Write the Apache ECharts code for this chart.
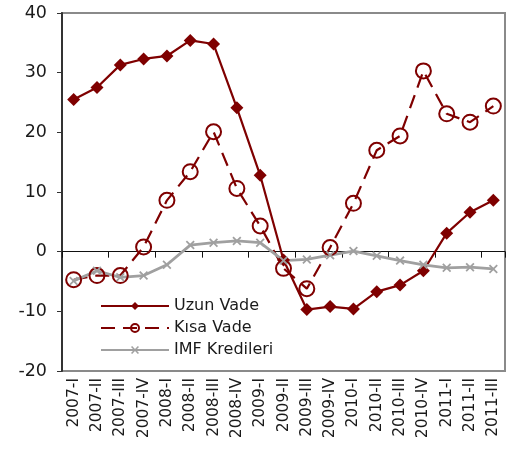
<!DOCTYPE html>
<html><head><meta charset="utf-8">
<script src="https://cdn.jsdelivr.net/npm/echarts@6/dist/echarts.min.js"></script>
<style>html,body{margin:0;padding:0;background:#fff}#c{width:512px;height:455px}</style>
</head><body><div id="c"></div>
<script>
const categories = ['2007-I','2007-II','2007-III','2007-IV','2008-I','2008-II','2008-III','2008-IV','2009-I','2009-II','2009-III','2009-IV','2010-I','2010-II','2010-III','2010-IV','2011-I','2011-II','2011-III'];
const uzunVade = [25.5, 27.5, 31.3, 32.3, 32.8, 35.4, 34.8, 24.1, 12.8, -1.4, -9.7, -9.2, -9.6, -6.7, -5.6, -3.2, 3.1, 6.6, 8.6];
const kisaVade = [-4.7, -4.0, -4.0, 0.8, 8.6, 13.4, 20.1, 10.6, 4.3, -2.8, -6.2, 0.7, 8.1, 17.0, 19.4, 30.3, 23.1, 21.7, 24.4];
const imfKredileri = [-4.9, -3.2, -4.3, -4.0, -2.2, 1.1, 1.5, 1.8, 1.5, -1.5, -1.3, -0.6, 0.1, -0.7, -1.5, -2.2, -2.7, -2.6, -2.9];
const seriesNames = ['Uzun Vade', 'Kısa Vade', 'IMF Kredileri'];
const yTicks = {min: -20, max: 40, interval: 10};

const RED = '#7f0000', GRAY = '#a0a0a0';
const FONT = 'DejaVu Sans';
const xShape = 'path://M0,1.4 L1.4,0 L5,3.6 L8.6,0 L10,1.4 L6.4,5 L10,8.6 L8.6,10 L5,6.4 L1.4,10 L0,8.6 L3.6,5 Z';

const chart = echarts.init(document.getElementById('c'), null, {renderer: 'canvas'});
chart.setOption({
  animation: false,
  backgroundColor: '#fff',
  textStyle: {fontFamily: FONT},
  grid: {left: 62, right: 7, top: 13, bottom: 84, show: true, borderColor: '#8a8a8a', borderWidth: 2, backgroundColor: 'transparent'},
  legend: {
    orient: 'vertical', left: 95, top: 293, itemWidth: 68, itemHeight: 10, itemGap: 6,
    textStyle: {fontFamily: FONT, fontSize: 16, color: '#1a1a1a'},
    data: seriesNames
  },
  xAxis: [{
    type: 'category', data: categories, boundaryGap: true, position: 'bottom',
    axisLine: {show: false, onZero: false},
    axisTick: {show: false},
    axisLabel: {rotate: 90, interval: 0, margin: 7, fontFamily: FONT, fontSize: 15.5, color: '#1a1a1a'},
    splitLine: {show: false}
  }, {
    type: 'category', data: categories, boundaryGap: true, position: 'bottom',
    axisLine: {show: true, onZero: true, lineStyle: {color: '#111', width: 1}},
    axisTick: {show: true, interval: 1, length: 6, inside: false, lineStyle: {color: '#111', width: 1}},
    axisLabel: {show: false},
    splitLine: {show: false}
  }],
  yAxis: {
    type: 'value', min: yTicks.min, max: yTicks.max, interval: yTicks.interval,
    axisLine: {show: true, lineStyle: {color: '#333', width: 2}},
    axisTick: {show: true, length: 5, lineStyle: {color: '#333', width: 1}},
    axisLabel: {margin: 15, fontFamily: FONT, fontSize: 17.5, color: '#1a1a1a'},
    splitLine: {show: false}
  },
  series: [{
    name: seriesNames[0], type: 'line', data: uzunVade, xAxisIndex: 0,
    symbol: 'diamond', symbolSize: 13,
    lineStyle: {color: RED, width: 2.2},
    itemStyle: {color: RED}
  }, {
    name: seriesNames[1], type: 'line', data: kisaVade, xAxisIndex: 0,
    symbol: 'circle', symbolSize: 15,
    lineStyle: {color: RED, width: 2.2, type: [14, 8]},
    itemStyle: {color: 'rgba(255,255,255,0)', borderColor: RED, borderWidth: 2}
  }, {
    name: seriesNames[2], type: 'line', data: imfKredileri, xAxisIndex: 0,
    symbol: xShape, symbolSize: 9,
    lineStyle: {color: GRAY, width: 2.8},
    itemStyle: {color: GRAY}
  }]
});
</script></body></html>
